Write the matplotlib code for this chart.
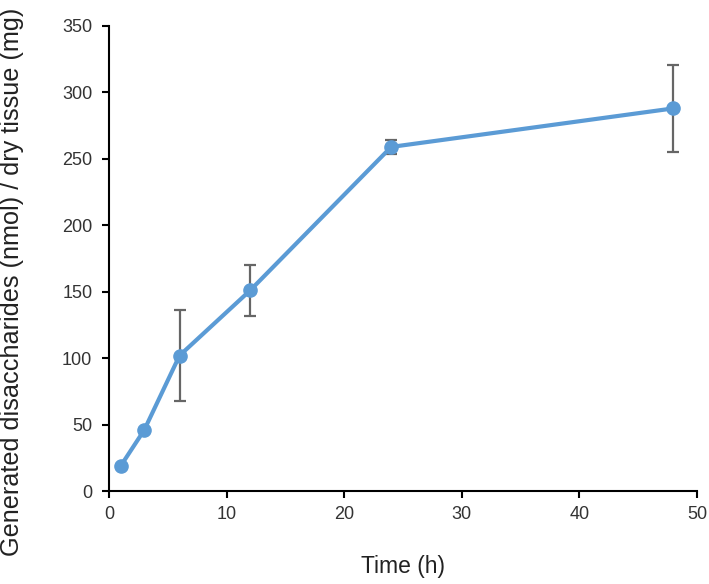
import matplotlib
matplotlib.use("Agg")
import matplotlib.pyplot as plt

time_h = [1, 3, 6, 12, 24, 48]
disaccharides = [19, 46, 102, 151, 259, 288]
err = [0, 0, 34, 19, 5, 33]

plt.rcParams['font.family'] = ['Liberation Sans', 'DejaVu Sans']

fig = plt.figure(figsize=(7.09, 5.84), dpi=100)
ax = fig.add_axes([0.1537, 0.159, 0.983 - 0.1537, 0.9555 - 0.159])

ax.errorbar(time_h, disaccharides, yerr=err, fmt='none', ecolor='#666666',
            elinewidth=1.6, capsize=4, capthick=1.6, zorder=2)
ax.plot(time_h, disaccharides, color='#5B9BD5', linewidth=3, marker='o',
        markersize=9.5, zorder=3)

ax.set_xlim(0, 50)
ax.set_ylim(0, 350)
ax.set_xticks([0, 10, 20, 30, 40, 50])
ax.set_yticks(range(0, 351, 50))
for s in ['top', 'right']:
    ax.spines[s].set_visible(False)
for s in ['left', 'bottom']:
    ax.spines[s].set_linewidth(1.5)
    ax.spines[s].set_color('black')
ax.tick_params(direction='out', length=5, width=1.5, labelsize=13, colors='black',
               labelcolor='#333333')
ax.tick_params(axis='y', pad=7)
ax.tick_params(axis='x', pad=6)
xl = ax.set_xlabel('Time (h)', fontsize=16.5, color='#222222')
yl = ax.set_ylabel('Generated disaccharides (nmol) / dry tissue (mg)', fontsize=18.2,
                   color='#222222')
ax.xaxis.set_label_coords(0.5, -0.163)
xl.set_va('center')
ax.yaxis.set_label_coords(-0.165, 0.4505)
yl.set_va('center')

fig.savefig('out.png', dpi=100)
